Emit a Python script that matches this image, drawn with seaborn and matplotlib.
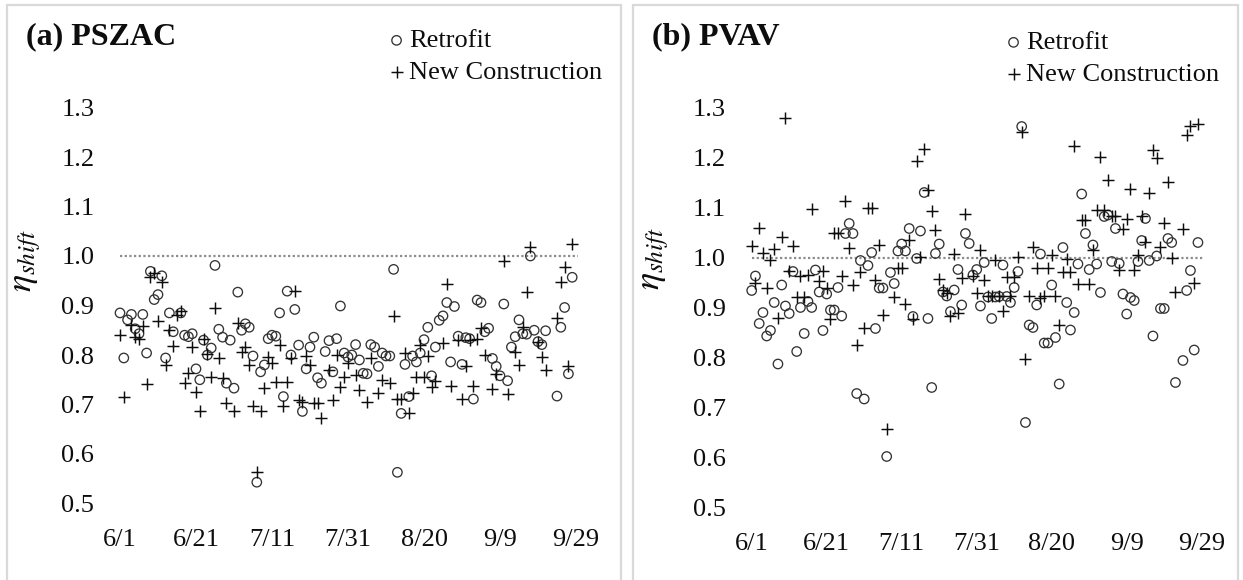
import datetime as dt

import matplotlib
matplotlib.use("Agg")
import matplotlib.pyplot as plt
from matplotlib.patches import Rectangle
import pandas as pd
import seaborn as sns

# ---------------------------------------------------------------- data
SEASON_START = dt.date(2019, 6, 1)
SEASON_DAYS = 120          # 6/1 .. 9/29
TICK_STEP = 20
REF_LEVEL = 1.0

# (a) PSZAC -- day offset from 6/1 and daily load-shift efficiency
pszac_retrofit_day = [0, 1, 2, 3, 4, 5, 6, 7, 8, 9, 10, 11, 12, 13, 14,
                      16, 17, 18, 19, 20, 21, 22, 23, 24, 25, 26, 27, 28, 29,
                      30, 31, 32, 33, 34, 35, 36, 37, 38, 39, 40, 41, 42, 43,
                      44, 45, 46, 47, 48, 49, 50, 51, 52, 53, 54, 55, 56, 57,
                      58, 59, 60, 61, 62, 63, 64, 65, 66, 67, 68, 69, 70, 71,
                      72, 73, 74, 75, 76, 77, 78, 79, 80, 81, 82, 83, 84, 85,
                      86, 87, 88, 89, 90, 91, 92, 93, 94, 95, 96, 97, 98, 99,
                      100, 101, 102, 103, 104, 105, 106, 107, 108, 109, 110,
                      111, 112, 115, 116, 117, 118, 119]
pszac_retrofit_eta = [0.885, 0.794, 0.871, 0.882, 0.853, 0.843, 0.882, 0.804,
                      0.969, 0.912, 0.922, 0.960, 0.794, 0.885, 0.847,
                      0.885, 0.840, 0.837, 0.843, 0.772, 0.750, 0.830, 0.800,
                      0.814, 0.981, 0.852, 0.836, 0.743, 0.830,
                      0.733, 0.927, 0.850, 0.863, 0.856, 0.798, 0.543, 0.766,
                      0.780, 0.833, 0.840, 0.838, 0.885, 0.716,
                      0.929, 0.800, 0.892, 0.820, 0.686, 0.772, 0.816, 0.836,
                      0.754, 0.743, 0.807, 0.829, 0.766, 0.833,
                      0.899, 0.804, 0.796, 0.800, 0.821, 0.790, 0.763, 0.762,
                      0.821, 0.816, 0.777, 0.804, 0.798, 0.798,
                      0.973, 0.563, 0.682, 0.781, 0.716, 0.798, 0.786, 0.804,
                      0.831, 0.856, 0.758, 0.816, 0.870, 0.879,
                      0.906, 0.786, 0.898, 0.838, 0.781, 0.835, 0.833, 0.711,
                      0.911, 0.906, 0.847, 0.854, 0.793, 0.777,
                      0.758, 0.903, 0.748, 0.816, 0.837, 0.871, 0.843, 0.842,
                      1.000, 0.850, 0.827,
                      0.821, 0.849, 0.717, 0.856, 0.896, 0.762, 0.957]

pszac_new_day = [0, 1, 3, 4, 5, 6, 7, 8, 9, 10, 11, 12, 13, 14, 15, 16, 17,
                 18, 19, 20, 21, 22, 23, 24, 25, 26, 27, 28, 30, 31, 32, 33,
                 34, 35, 36, 37, 38, 39, 40, 41, 42, 43, 44, 45, 46, 47, 48,
                 49, 50, 51, 52, 53, 55, 56, 57, 58, 59, 60, 62, 63, 65, 66,
                 68, 69, 71, 72, 73, 74, 75, 76, 77, 78, 79, 80, 81, 82, 83,
                 85, 86, 87, 89, 90, 91, 92, 93, 94, 95, 96, 98, 99, 101, 102,
                 104, 105, 106, 107, 108, 110, 111, 112, 115, 116, 117, 118,
                 119]
pszac_new_eta = [0.840, 0.716, 0.861, 0.837, 0.833, 0.858, 0.741, 0.958,
                 0.966, 0.868, 0.948, 0.780, 0.850, 0.818, 0.880, 0.889,
                 0.743, 0.764, 0.817, 0.726, 0.686, 0.832, 0.802, 0.756,
                 0.895, 0.794, 0.753, 0.704, 0.686, 0.865, 0.807, 0.817,
                 0.780, 0.696, 0.564, 0.686, 0.733, 0.796, 0.784, 0.746,
                 0.821, 0.696, 0.746, 0.793, 0.929, 0.710, 0.706,
                 0.798, 0.780, 0.703, 0.703, 0.672, 0.769, 0.709, 0.800,
                 0.736, 0.756, 0.783, 0.760, 0.730, 0.706, 0.793,
                 0.724, 0.749, 0.743, 0.878, 0.712, 0.712, 0.804, 0.682,
                 0.724, 0.756, 0.821, 0.756, 0.798, 0.736, 0.748,
                 0.825, 0.943, 0.737, 0.831, 0.712, 0.777, 0.830, 0.737,
                 0.833, 0.854, 0.800, 0.732, 0.762, 0.990, 0.722,
                 0.807, 0.780, 0.856, 0.927, 1.018, 0.827, 0.795, 0.770,
                 0.874, 0.948, 0.977, 0.778, 1.025]

# (b) PVAV
pvav_retrofit_day = [0, 1, 2, 3, 4, 5, 6, 7, 8, 9, 10, 11, 12, 13, 14, 15, 16,
                     17, 18, 19, 20, 21, 22, 23, 24, 25, 26, 27, 28, 29, 30,
                     31, 32, 33, 34, 35, 36, 37, 38, 39, 40, 41, 42, 43, 44,
                     45, 46, 47, 48, 49, 50, 51, 52, 53, 54, 55, 56, 57, 58,
                     59, 60, 61, 62, 63, 64, 65, 66, 67, 68, 69, 70, 71, 72,
                     73, 74, 75, 76, 77, 78, 79, 80, 81, 82, 83, 84, 85, 86,
                     87, 88, 89, 90, 91, 92, 93, 94, 95, 96, 97, 98, 99, 100,
                     101, 102, 103, 104, 105, 106, 107, 108, 109, 110, 111,
                     112, 113, 115, 116, 117, 118, 119]
pvav_retrofit_eta = [0.935, 0.964, 0.869, 0.891, 0.844, 0.855, 0.911, 0.788,
                     0.946, 0.904, 0.889, 0.973, 0.813, 0.901, 0.849, 0.913,
                     0.901, 0.976, 0.932, 0.855, 0.928, 0.896, 0.896, 0.941,
                     0.884, 1.049, 1.069, 1.049, 0.729, 0.995, 0.718,
                     0.985, 1.011, 0.859, 0.940, 0.940, 0.603, 0.971, 0.949,
                     1.014, 1.028, 1.014, 1.059, 0.883, 0.999,
                     1.054, 1.131, 0.879, 0.741, 1.009, 1.028, 0.932, 0.924,
                     0.893, 0.936, 0.977, 0.906, 1.049, 1.029,
                     0.966, 0.977, 0.904, 0.991, 0.922, 0.879, 0.922, 0.923,
                     0.986, 0.923, 0.911, 0.941, 0.973, 1.263,
                     0.671, 0.866, 0.861, 0.906, 1.008, 0.830, 0.830, 0.946,
                     0.841, 0.748, 1.021, 0.911, 0.856, 0.891,
                     0.988, 1.128, 1.049, 0.977, 1.026, 0.988, 0.931, 1.083,
                     1.086, 0.993, 1.059, 0.989, 0.928, 0.888,
                     0.921, 0.915, 0.993, 1.035, 1.079, 0.995, 0.844, 1.004,
                     0.899, 0.899, 1.039,
                     1.031, 0.751, 0.795, 0.935, 0.975, 0.816, 1.031]

pvav_new_day = [0, 1, 2, 3, 4, 5, 6, 7, 8, 9, 10, 11, 12, 13, 14, 15, 16, 18,
                19, 20, 21, 22, 23, 24, 25, 26, 27, 28, 29, 30, 31, 32, 33,
                34, 35, 36, 38, 39, 40, 41, 42, 43, 44, 45, 46, 47, 48, 49,
                50, 51, 52, 53, 54, 55, 56, 57, 59, 60, 61, 62, 63, 64, 65,
                66, 67, 68, 69, 70, 71, 72, 73, 74, 75, 76, 77, 78, 79, 80,
                81, 82, 83, 84, 85, 86, 87, 88, 89, 90, 91, 92, 93, 94, 95,
                96, 97, 98, 99, 100, 101, 102, 103, 104, 105, 106, 107, 108,
                109, 110, 111, 112, 113, 115, 116, 117, 118, 119]
pvav_new_eta = [1.024, 0.949, 1.061, 1.011, 0.941, 0.996, 1.019, 0.879,
                1.043, 1.281, 0.973, 1.025, 0.922, 0.963, 0.922, 0.966,
                1.099, 0.953, 0.973, 0.941, 0.877, 1.051, 1.051, 0.963,
                1.113, 1.021, 0.946, 0.826, 0.971, 0.859, 1.100, 1.100,
                0.956, 1.026, 0.886, 0.657, 0.922, 0.980, 0.980, 0.908,
                1.036, 0.877, 1.194, 1.003, 1.217, 1.136, 1.095, 1.057,
                0.957, 0.936, 0.929, 0.884, 1.009, 0.889, 0.960, 1.089,
                0.964, 0.929, 1.016, 0.956, 0.924, 0.924, 0.995,
                0.924, 0.893, 0.961, 0.924, 0.961, 1.003, 1.253, 0.798,
                0.923, 1.023, 0.979, 0.919, 0.923, 0.979, 1.006,
                0.923, 0.866, 0.972, 0.997, 0.972, 1.223, 0.947, 1.077,
                1.077, 0.947, 1.017, 1.096, 1.201, 1.096, 1.156,
                1.084, 1.084, 0.976, 1.059, 1.079, 1.137, 0.976, 1.006,
                1.084, 1.033, 1.129, 1.216, 1.199,
                1.023, 1.071, 1.151, 1.001, 0.931, 1.059, 1.246, 1.264,
                0.949, 1.269]

SERIES_NAMES = ["Retrofit", "New Construction"]
Y_TICKS = [0.5, 0.6, 0.7, 0.8, 0.9, 1.0, 1.1, 1.2, 1.3]

# ---------------------------------------------------------------- style
sns.set_theme(style="white")
plt.rcParams["font.family"] = ["Liberation Serif", "DejaVu Serif"]
plt.rcParams["mathtext.fontset"] = "stix"

TEXT_COLOR = "#0d0d0d"
TICK_SIZE = 19

W, H = 1243, 580
fig = plt.figure(figsize=(W / 100, H / 100), dpi=100)
fig.patch.set_facecolor("white")


def px_rect(x0, y_top, x1, y_bot):
    return [x0 / W, 1 - y_bot / H, (x1 - x0) / W, (y_bot - y_top) / H]


def draw_panel(ax, ret_day, ret_eta, new_day, new_eta):
    ret = pd.DataFrame({"day": ret_day, "eta": ret_eta})
    new = pd.DataFrame({"day": new_day, "eta": new_eta})

    ax.hlines(REF_LEVEL, 0, SEASON_DAYS + 0.5, colors="#8c8c8c",
              linestyles=(0, (1, 1.1)), linewidth=1.6, zorder=1)
    sns.scatterplot(data=ret, x="day", y="eta", ax=ax, marker="o", s=46,
                    facecolors="none", edgecolor="#333333", linewidth=0.95,
                    label=SERIES_NAMES[0], zorder=3)
    sns.scatterplot(data=new, x="day", y="eta", ax=ax, marker="+", s=72,
                    color="#0d0d0d", linewidth=1.05,
                    label=SERIES_NAMES[1], zorder=3)

    ticks = list(range(0, SEASON_DAYS + 1, TICK_STEP))
    labels = []
    for t in ticks:
        d = SEASON_START + dt.timedelta(days=t)
        labels.append(f"{d.month}/{d.day}")
    ax.set_xticks(ticks)
    ax.set_xticklabels(labels)
    ax.set_yticks(Y_TICKS)
    ax.set_yticklabels([f"{v:.1f}" for v in Y_TICKS])
    ax.set_xlim(-2, SEASON_DAYS + 2)
    ax.set_ylim(0.5, 1.3)
    ax.set_xlabel("")
    ax.set_ylabel(r"$\eta_{shift}$", fontsize=26, color=TEXT_COLOR)
    for s in ax.spines.values():
        s.set_visible(False)
    ax.tick_params(axis="both", length=0, labelsize=TICK_SIZE,
                   colors=TEXT_COLOR)
    ax.tick_params(axis="x", pad=18)
    ax.tick_params(axis="y", pad=13)
    ax.set_facecolor("none")
    ax.grid(False)


# panel frames
for (x0, x1) in [(7, 621), (633, 1238)]:
    fig.patches.append(Rectangle((x0 / W, -0.05), (x1 - x0) / W,
                                 1.05 - 5 / H, transform=fig.transFigure,
                                 fill=False, edgecolor="#d9d9d9",
                                 linewidth=1.6))

ax_a = fig.add_axes(px_rect(112.4, 107.5, 583.6, 503.5))
ax_b = fig.add_axes(px_rect(744.2, 108.0, 1209.2, 508.0))

draw_panel(ax_a, pszac_retrofit_day, pszac_retrofit_eta,
           pszac_new_day, pszac_new_eta)
draw_panel(ax_b, pvav_retrofit_day, pvav_retrofit_eta,
           pvav_new_day, pvav_new_eta)

ax_a.yaxis.set_label_coords((43 - 112.4) / 471.2, (503.5 - 260) / 396.0)
ax_b.yaxis.set_label_coords((671 - 744.2) / 465.0, (508 - 258) / 400.0)

# titles
fig.text(26 / W, 1 - 37 / H, "(a) PSZAC", fontsize=23, fontweight="bold",
         ha="left", va="center", color=TEXT_COLOR)
fig.text(652 / W, 1 - 37 / H, "(b) PVAV", fontsize=23, fontweight="bold",
         ha="left", va="center", color=TEXT_COLOR)

# legends
for ax, x_left, y_mid in [(ax_a, 387.3, 56.5), (ax_b, 1004.3, 58.5)]:
    handles, labs = ax.get_legend_handles_labels()
    ax.legend(handles, labs, loc="center left",
              bbox_to_anchor=(x_left / W, 1 - y_mid / H),
              bbox_transform=fig.transFigure, frameon=False,
              fontsize=TICK_SIZE, borderpad=0, borderaxespad=0,
              handlelength=0.7, handletextpad=0.12, labelspacing=0.32,
              labelcolor=TEXT_COLOR)

fig.savefig("out.png", dpi=100, facecolor="white")
